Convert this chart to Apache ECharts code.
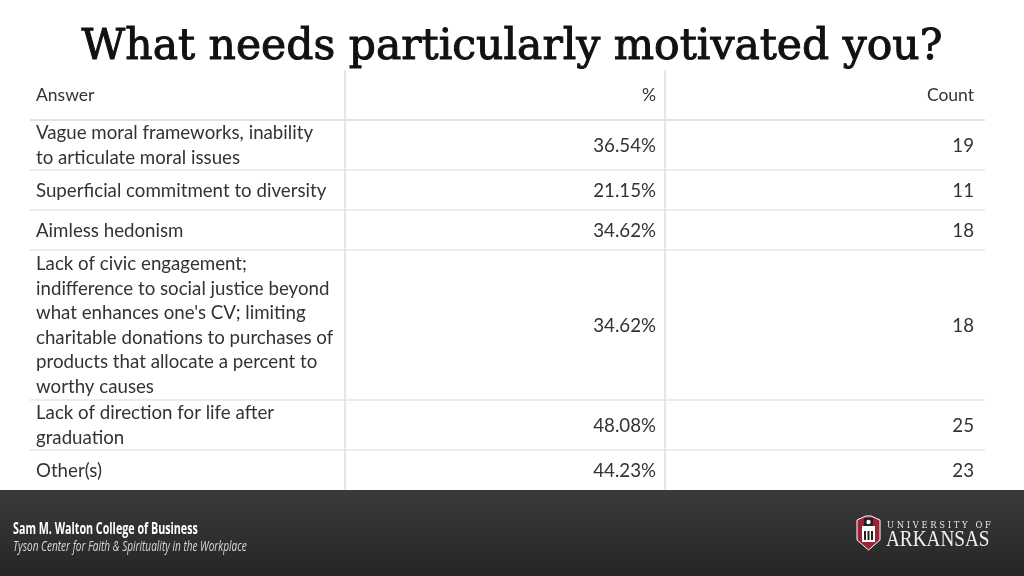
<!DOCTYPE html>
<html><head><meta charset="utf-8">
<script src="https://cdn.jsdelivr.net/npm/echarts@6/dist/echarts.min.js"></script>
<style>html,body{margin:0;padding:0;background:#fff}#c{width:1024px;height:576px}</style>
</head><body><div id="c"></div>
<script>
const titleText = 'What needs particularly motivated you?';
const headers = ['Answer', '%', 'Count'];
const answers = [
  'Vague moral frameworks, inability\nto articulate moral issues',
  'Superficial commitment to diversity',
  'Aimless hedonism',
  "Lack of civic engagement;\nindifference to social justice beyond\nwhat enhances one's CV; limiting\ncharitable donations to purchases of\nproducts that allocate a percent to\nworthy causes",
  'Lack of direction for life after\ngraduation',
  'Other(s)'
];
const percents = ['36.54%', '21.15%', '34.62%', '34.62%', '48.08%', '44.23%'];
const counts = [19, 11, 18, 18, 25, 23];

// row extents derived from the number of text lines in each answer
const LINE = 25, MINROW = 40, HEAD = 50;
const rows = [];
let acc = 0;
rows.push([ -1, acc, acc + HEAD ]); acc += HEAD;
answers.forEach((a, i) => {
  const h = Math.max(MINROW, a.split('\n').length * LINE);
  rows.push([i, acc, acc + h]); acc += h;
});
const TOTAL = acc;

const FONT = 'Lato, "Open Sans", sans-serif';
const TXT = '#333333';
const GRID = '#dedede';

function renderItem(params, api) {
  const idx = api.value(0);
  const y0 = api.coord([0, api.value(1)])[1];
  const y1 = api.coord([0, api.value(2)])[1];
  const xL = api.coord([0, 0])[0];
  const xC1 = api.coord([317, 0])[0];
  const xC2 = api.coord([637, 0])[0];
  const xR = api.coord([957, 0])[0];
  const yc = (y0 + y1) / 2;
  const isHead = idx < 0;
  const t0 = isHead ? headers[0] : answers[idx];
  const t1 = isHead ? headers[1] : percents[idx];
  const t2 = isHead ? headers[2] : String(counts[idx]);
  const fs = isHead ? 17.5 : 18.7;
  const children = [
    {type: 'line', shape: {x1: xC1, y1: y0, x2: xC1, y2: y1}, style: {stroke: GRID, lineWidth: 1.5}},
    {type: 'line', shape: {x1: xC2, y1: y0, x2: xC2, y2: y1}, style: {stroke: GRID, lineWidth: 1.5}},
    {type: 'text', x: xL + 8, y: yc + 0.5, style: {text: t0, fill: TXT, font: fs + 'px ' + FONT, lineHeight: 24.6, align: 'left', verticalAlign: 'middle'}},
    {type: 'text', x: xC2 - 9, y: yc + 0.5, style: {text: t1, fill: TXT, font: fs + 'px ' + FONT, align: 'right', verticalAlign: 'middle'}},
    {type: 'text', x: xR - 11, y: yc + 0.5, style: {text: t2, fill: TXT, font: fs + 'px ' + FONT, align: 'right', verticalAlign: 'middle'}}
  ];
  if (idx < answers.length - 1) {
    children.push({type: 'line', shape: {x1: xL + 2, y1: y1, x2: xR, y2: y1}, style: {stroke: isHead ? '#e2e2e2' : '#e6e6e6', lineWidth: isHead ? 2 : 1.5}});
  }
  return {type: 'group', children: children};
}

const chart = echarts.init(document.getElementById('c'), null, {renderer: 'canvas'});
chart.setOption({
  animation: false,
  backgroundColor: '#ffffff',
  title: {
    text: titleText, left: 'center', top: 21,
    textStyle: {fontFamily: '"DejaVu Serif", serif', fontWeight: 'normal', fontSize: 42.5, color: '#111111',
      textBorderColor: '#111111', textBorderWidth: 1}
  },
  grid: {left: 28, right: 39, top: 70, bottom: 86},
  xAxis: {type: 'value', min: 0, max: 957, show: false},
  yAxis: {type: 'value', min: 0, max: TOTAL, inverse: true, show: false},
  series: [{type: 'custom', renderItem: renderItem, clip: false, data: rows}],
  graphic: [
    {type: 'rect', left: 0, top: 490, shape: {width: 1024, height: 86},
     style: {fill: new echarts.graphic.LinearGradient(0, 0, 0, 1, [{offset: 0, color: '#3a3a3a'}, {offset: 1, color: '#262626'}])}},
    {type: 'text', x: 13, y: 521, scaleX: 0.67, style: {text: 'Sam M. Walton College of Business', fill: '#ffffff', font: 'bold 16px "Open Sans", sans-serif'}},
    {type: 'text', x: 13, y: 539, scaleX: 0.67, style: {text: 'Tyson Center for Faith & Spirituality in the Workplace', fill: '#d8d8d8', font: 'italic 15px "Open Sans", sans-serif'}},
    {type: 'group', x: 857, y: 516, children: [
      {type: 'polygon', shape: {points: [[0,4],[9,0],[14,0],[23,4],[23,24],[11.5,34],[0,24]]}, style: {fill: '#9d2235', stroke: '#ffffff', lineWidth: 1}},
      {type: 'rect', shape: {x: 5, y: 10, width: 13, height: 16}, style: {fill: '#ffffff'}},
      {type: 'rect', shape: {x: 7, y: 2, width: 9, height: 8}, style: {fill: '#222222'}},
      {type: 'circle', shape: {cx: 11.5, cy: 6, r: 2.2}, style: {fill: '#ffffff'}},
      {type: 'rect', shape: {x: 7, y: 15, width: 2, height: 9}, style: {fill: '#222222'}},
      {type: 'rect', shape: {x: 10.5, y: 15, width: 2, height: 9}, style: {fill: '#222222'}},
      {type: 'rect', shape: {x: 14, y: 15, width: 2, height: 9}, style: {fill: '#222222'}}
    ]},
    {type: 'text', x: 887, y: 520, scaleX: 0.84, style: {text: 'U N I V E R S I T Y   O F', fill: '#e8e8e8', font: '10px "DejaVu Serif", serif'}},
    {type: 'text', x: 886, y: 528, scaleX: 0.8, style: {text: 'ARKANSAS', fill: '#f0f0f0', font: '24px "Liberation Serif", serif'}}
  ]
});
</script></body></html>
